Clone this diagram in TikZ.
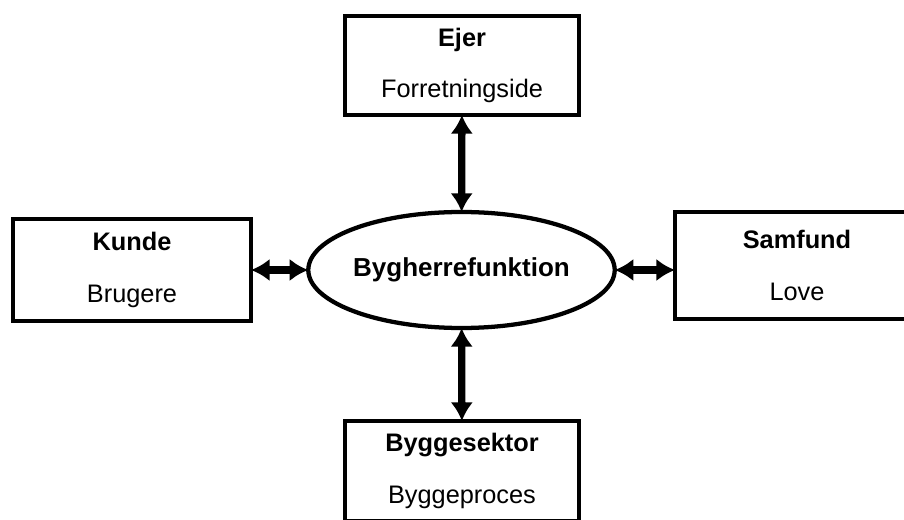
\documentclass[tikz,border=0pt]{standalone}
\usepackage{fontspec}
\setmainfont{Liberation Sans}
\usetikzlibrary{arrows.meta}
\usetikzlibrary{shapes.geometric}

\begin{document}
\begin{tikzpicture}[x=0.75pt,y=-0.75pt]
\tikzset{>={Latex[width=17pt,length=14pt]}}
\tikzstyle{box} =[rectangle, draw, line width=3.2pt, align=center, inner sep=0pt, outer sep=0pt, font=\fontsize{19}{38.5}\selectfont]
\tikzstyle{hub} =[ellipse, draw, line width=3.2pt, inner sep=0pt, outer sep=0pt, minimum width=227pt, minimum height=87pt, font=\fontsize{19.5}{22}\selectfont\bfseries]

\clip (0,0) rectangle (904,520);

\node[box,minimum width=175.5pt,minimum height=74.25pt](ejer) at (462,65.5){\textbf{Ejer}\\Forretningside};
\node[box,minimum width=178.5pt,minimum height=76.5pt](kunde) at (132,270){\textbf{Kunde}\\Brugere};
\node[box,minimum width=183pt,minimum height=80.25pt](samfund) at (797,265.5){\textbf{Samfund}\\Love};
\node[box,minimum width=175.5pt,minimum height=75pt](sektor) at (462,471){\textbf{Byggesektor}\\Byggeproces};
\node[hub](bh) at (461.5,270){Bygherrefunktion};

\draw [<->,line width=5.5pt] (ejer) to (bh);
\draw [<->,line width=5.5pt] (kunde) to (bh);
\draw [<->,line width=5.5pt] (bh.east) to (bh.east -| samfund.west);
\draw [<->,line width=5.5pt] (bh) to (sektor);
\end{tikzpicture}
\end{document}
